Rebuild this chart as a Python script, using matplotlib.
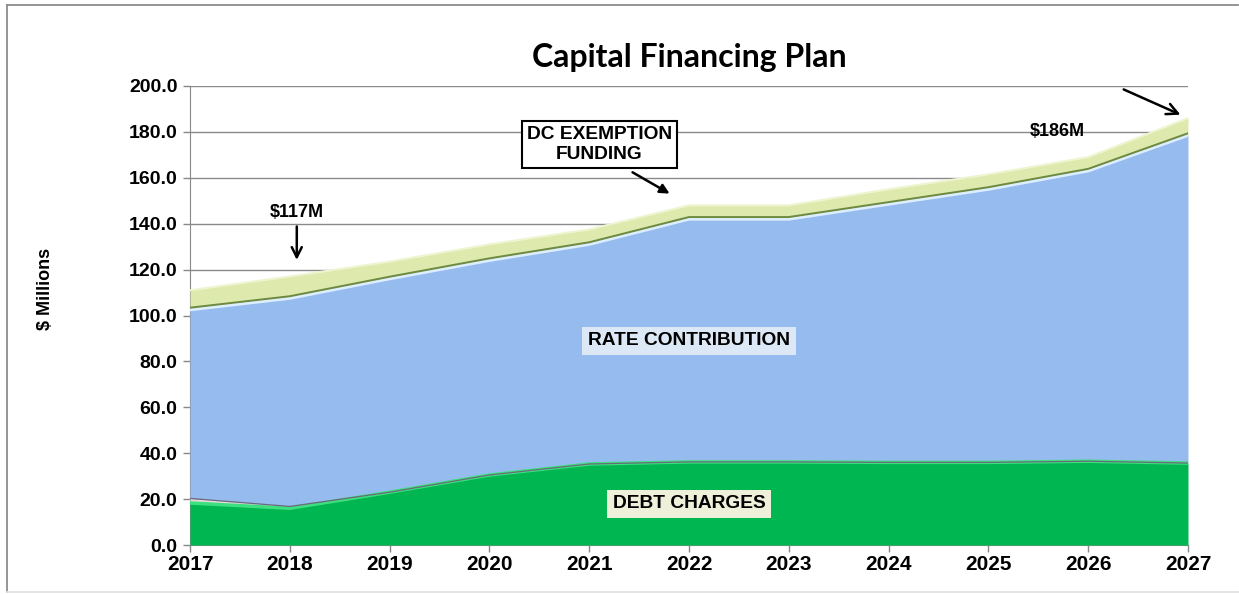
import matplotlib
matplotlib.use("Agg")
import matplotlib.pyplot as plt
from matplotlib.lines import Line2D
import numpy as np

plt.rcParams['font.family'] = ['Liberation Sans', 'DejaVu Sans']

# Capital financing plan ($ millions)
years = [2017, 2018, 2019, 2020, 2021, 2022, 2023, 2024, 2025, 2026, 2027]
debt_charges = [18.3, 16.0, 23.0, 30.5, 35.3, 36.2, 36.2, 36.0, 36.0, 36.5, 35.7]
other_funding = [2.0, 0.8, 0.0, 0.0, 0.0, 0.0, 0.0, 0.0, 0.0, 0.0, 0.0]
rate_contribution = [82.2, 90.7, 93.0, 93.5, 95.7, 105.8, 105.8, 112.5, 119.0, 126.5, 142.8]
dc_exemption = [8.5, 9.5, 7.5, 7.0, 6.5, 6.0, 6.0, 6.5, 6.5, 6.0, 7.5]
y_ticks = [0, 20, 40, 60, 80, 100, 120, 140, 160, 180, 200]

x = np.array(years, dtype=float)
l1 = np.array(debt_charges)
l2 = l1 + np.array(other_funding)
l3 = l2 + np.array(rate_contribution)
l4 = l3 + np.array(dc_exemption)

W, H = 1239, 594
fig = plt.figure(figsize=(W / 100, H / 100), dpi=100)

# outer frame (top, left, bottom)
frame_kw = dict(transform=fig.transFigure, color='#8c8c8c', lw=1.3)
fig.lines.append(Line2D([7 / W, 1 - 1 / W], [1 - 5 / H, 1 - 5 / H], **frame_kw))
fig.lines.append(Line2D([7 / W, 7 / W], [2 / H, 1 - 5 / H], **frame_kw))
fig.lines.append(Line2D([7 / W, 1 - 1 / W], [2 / H, 2 / H], color='#e2e2e2', lw=1.3,
                        transform=fig.transFigure))

ax = fig.add_axes([190 / W, 49 / H, 998 / W, 459 / H])

# stacked areas
ax.fill_between(x, 0, l1, color='#00b650', zorder=3, linewidth=0)
ax.plot(x, l1, color='#3de07f', lw=2.5, zorder=4)
ax.fill_between(x, l1, l2, color='#e8d8d8', zorder=3, linewidth=0)
ax.plot(x, l2, color='#6a6a7a', lw=0.9, zorder=5)
ax.fill_between(x, l2, l3, color='#96bbee', zorder=3, linewidth=0)
ax.plot(x, l3, color='#dceeff', lw=2.2, zorder=4)
ax.fill_between(x, l3, l4, color='#dde9ad', zorder=3, linewidth=0)
ax.plot(x, l3 + 0.9, color='#6e8a40', lw=1.4, zorder=4)
ax.plot(x, l4, color='#eef4cf', lw=1.5, zorder=4)

ax.set_xlim(years[0], years[-1])
ax.set_ylim(0, 200)
ax.set_yticks(y_ticks)
ax.set_yticklabels([f"{v:.1f}" for v in y_ticks], fontsize=14, fontweight='bold')
ax.set_xticks(years)
ax.set_xticklabels([str(y) for y in years], fontsize=15, fontweight='bold')
ax.tick_params(axis='both', colors='#888888', labelcolor='black', length=5, width=1)
ax.tick_params(axis='x', pad=2)
ax.tick_params(axis='y', pad=4)
ax.grid(axis='y', color='#8a8a8a', lw=1, zorder=0)
ax.set_axisbelow(True)
for s in ['top', 'right']:
    ax.spines[s].set_visible(False)
for s in ['left', 'bottom']:
    ax.spines[s].set_color('#888888')

fig.text(46 / W, 1 - 289 / H, '$ Millions', rotation=90, ha='center', va='center',
         fontsize=13, fontweight='bold')

fig.text(689 / W, 1 - 57 / H, 'Capital Financing Plan', ha='center', va='center',
         fontsize=23, fontweight='bold', family=['Lato', 'DejaVu Sans'])

# area labels
ax.text(2022.0, 88.9, 'RATE CONTRIBUTION', ha='center', va='center', fontsize=13.8,
        fontweight='bold', zorder=6,
        bbox=dict(boxstyle='square,pad=0.3', fc='#dde8f6', ec='none'))
ax.text(2022.0, 17.9, 'DEBT CHARGES', ha='center', va='center', fontsize=13.8,
        fontweight='bold', zorder=6,
        bbox=dict(boxstyle='square,pad=0.3', fc='#eef0da', ec='none'))

# callouts
ax.text(2018.07, 145, '$117M', ha='center', va='center', fontsize=13,
        fontweight='bold', zorder=6)
ax.annotate('', xy=(2018.07, l4[1] + 6), xytext=(2018.07, l4[1] + 23),
            arrowprops=dict(arrowstyle='->', color='black', lw=1.8,
                            mutation_scale=18), zorder=6)

ax.text(2021.1, 174.5, 'DC EXEMPTION\nFUNDING', ha='center', va='center', fontsize=13.8,
        fontweight='bold', linespacing=1.25, zorder=6,
        bbox=dict(boxstyle='square,pad=0.25', fc='white', ec='black', lw=1.5))
ax.annotate('', xy=(2021.83, l4[5] + 4.5), xytext=(2021.41, 163.0),
            arrowprops=dict(arrowstyle='-|>', color='black', lw=1.8,
                            mutation_scale=14), zorder=6)

ax.text(2025.69, 180.0, '$186M', ha='center', va='center', fontsize=13,
        fontweight='bold', zorder=6)
ax.annotate('', xy=(2026.95, l4[-1] + 1), xytext=(2026.33, 199),
            arrowprops=dict(arrowstyle='->', color='black', lw=1.8,
                            mutation_scale=20), zorder=6, annotation_clip=False)

fig.savefig('out.png', dpi=100, facecolor='white')
